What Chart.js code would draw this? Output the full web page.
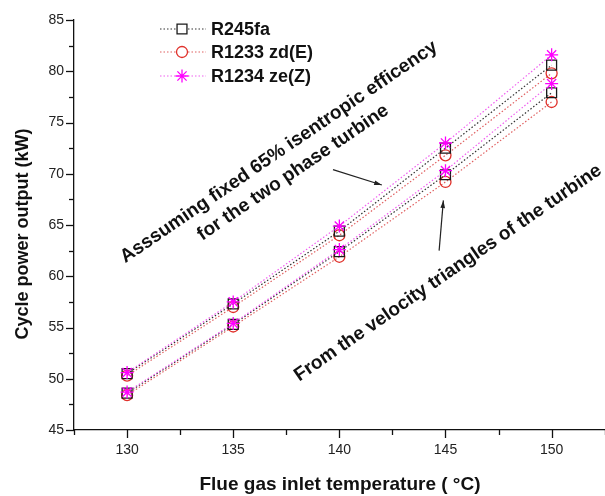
<!DOCTYPE html>
<html lang="en">
<head>
<meta charset="UTF-8">
<title>Cycle power output vs flue gas inlet temperature</title>
<script src="https://cdn.jsdelivr.net/npm/chart.js"></script>
<style>
  body { margin: 0; background: #fff; overflow: hidden; }
  /* the original figure is cut at the right edge, so the canvas runs a little past the view */
  #wrap { width: 605px; height: 496px; overflow: hidden; }
</style>
</head>
<body>
<div id="wrap"><canvas id="powerChart" width="613" height="496"></canvas></div>

<script>
    // Flue gas inlet temperature (°C)
    const temps = [130, 135, 140, 145, 150];

    // Assuming fixed 65% isentropic efficiency (upper group)
    const fixedR245fa = [50.5, 57.3, 64.4, 72.5, 80.6];
    const fixedR1233 = [50.3, 57.0, 64.0, 71.8, 79.8];
    const fixedR1234 = [50.6, 57.5, 64.9, 73.0, 81.6];

    // From the velocity triangles of the turbine (lower group)
    const velR245fa = [48.6, 55.3, 62.4, 69.9, 77.9];
    const velR1233 = [48.4, 55.1, 61.9, 69.2, 77.0];
    const velR1234 = [48.7, 55.4, 62.6, 70.3, 78.8];

    // Tick labels
    const xTickLabels = [130, 135, 140, 145, 150];
    const yTickLabels = [45, 50, 55, 60, 65, 70, 75, 80, 85];

    const FONT = '"Liberation Sans", Arial, sans-serif';

    // Series styles
    const fluids = [
        { name: 'R245fa', color: '#1a1a1a', line: '#333333', point: 'rect', radius: 7, order: 1 },
        { name: 'R1233 zd(E)', color: '#e0302a', line: '#e06060', point: 'circle', radius: 5.5, order: 2 },
        { name: 'R1234 ze(Z)', color: '#ff00ff', line: '#f060f0', point: 'star', radius: 6.5, order: 0 }
    ];

    function series(values, f) {
        return {
            label: f.name,
            data: temps.map((t, i) => ({ x: t, y: values[i] })),
            borderColor: f.line,
            borderWidth: 1.2,
            borderDash: [1.5, 2],
            pointStyle: f.point,
            pointRadius: f.radius,
            pointBorderColor: f.color,
            pointBackgroundColor: 'rgba(0,0,0,0)',
            pointBorderWidth: 1.3,
            fill: false,
            order: f.order
        };
    }

    // Ticks, titles, legend, annotations and arrows
    const decorPlugin = {
        id: 'decor',
        afterDraw(chart) {
            const ctx = chart.ctx;
            const xs = chart.scales.x, ys = chart.scales.y;
            const area = chart.chartArea;
            ctx.save();
            ctx.strokeStyle = '#111';
            ctx.lineWidth = 1.3;

            // x tick marks
            for (let v = 127.5; v <= 152.5; v += 2.5) {
                const px = Math.round(xs.getPixelForValue(v)) + 0.5;
                const len = xTickLabels.includes(v) ? 8 : 5;
                ctx.beginPath();
                ctx.moveTo(px, area.bottom);
                ctx.lineTo(px, area.bottom + len);
                ctx.stroke();
            }
            // y tick marks
            for (let v = 45; v <= 85; v += 2.5) {
                const py = Math.round(ys.getPixelForValue(v)) + 0.5;
                const len = yTickLabels.includes(v) ? 8 : 5;
                ctx.beginPath();
                ctx.moveTo(area.left, py);
                ctx.lineTo(area.left - len, py);
                ctx.stroke();
            }

            // axis titles
            ctx.fillStyle = '#111';
            ctx.textAlign = 'center';
            ctx.textBaseline = 'middle';
            ctx.font = 'bold 19px ' + FONT;
            ctx.fillText('Flue gas inlet temperature ( °C)', 340, 485);
            ctx.font = 'bold 18px ' + FONT;
            ctx.save();
            ctx.translate(23, 234);
            ctx.rotate(-Math.PI / 2);
            ctx.fillText('Cycle power output (kW)', 0, 0);
            ctx.restore();

            // legend
            const rows = [29, 52, 76];
            fluids.forEach((f, i) => {
                const ly = rows[i];
                ctx.save();
                ctx.strokeStyle = f.line;
                ctx.lineWidth = 1.2;
                ctx.setLineDash([1.5, 2]);
                ctx.beginPath();
                ctx.moveTo(160, ly);
                ctx.lineTo(206, ly);
                ctx.stroke();
                ctx.restore();
                ctx.save();
                ctx.strokeStyle = f.color;
                ctx.fillStyle = '#fff';
                ctx.lineWidth = 1.3;
                Chart.helpers.drawPoint(ctx, {
                    pointStyle: f.point, radius: f.radius, borderWidth: 1.3, rotation: 0
                }, 182, ly);
                ctx.restore();
                ctx.fillStyle = '#111';
                ctx.textAlign = 'left';
                ctx.font = 'bold 18px ' + FONT;
                ctx.fillText(f.name, 211, ly + 1);
            });

            // rotated annotations
            ctx.font = 'bold 19px ' + FONT;
            ctx.textAlign = 'center';
            ctx.save();
            ctx.translate(279, 152);
            ctx.rotate(-34.3 * Math.PI / 180);
            ctx.fillText('Asssuming fixed 65% isentropic efficency', 0, 0);
            ctx.fillText('for the two phase turbine', 0, 25);
            ctx.restore();

            ctx.save();
            ctx.translate(448, 273);
            ctx.rotate(-34.5 * Math.PI / 180);
            ctx.fillText('From the velocity triangles of the turbine', 0, 0);
            ctx.restore();

            // arrows, anchored in data space
            drawArrow(ctx, xs.getPixelForValue(139.7), ys.getPixelForValue(70.4),
                xs.getPixelForValue(142.0), ys.getPixelForValue(68.9));
            drawArrow(ctx, xs.getPixelForValue(144.7), ys.getPixelForValue(62.5),
                xs.getPixelForValue(144.9), ys.getPixelForValue(67.4));

            ctx.restore();
        }
    };

    function drawArrow(ctx, x1, y1, x2, y2) {
        const a = Math.atan2(y2 - y1, x2 - x1);
        ctx.save();
        ctx.strokeStyle = '#222';
        ctx.fillStyle = '#222';
        ctx.lineWidth = 1.2;
        ctx.beginPath();
        ctx.moveTo(x1, y1);
        ctx.lineTo(x2, y2);
        ctx.stroke();
        ctx.beginPath();
        ctx.moveTo(x2, y2);
        ctx.lineTo(x2 - 8 * Math.cos(a - 0.3), y2 - 8 * Math.sin(a - 0.3));
        ctx.lineTo(x2 - 8 * Math.cos(a + 0.3), y2 - 8 * Math.sin(a + 0.3));
        ctx.closePath();
        ctx.fill();
        ctx.restore();
    }

    const ctxPower = document.getElementById('powerChart').getContext('2d');
    new Chart(ctxPower, {
        type: 'line',
        data: {
            datasets: [
                series(fixedR245fa, fluids[0]),
                series(fixedR1233, fluids[1]),
                series(fixedR1234, fluids[2]),
                series(velR245fa, fluids[0]),
                series(velR1233, fluids[1]),
                series(velR1234, fluids[2])
            ]
        },
        options: {
            responsive: false,
            animation: false,
            layout: { padding: { top: 20, right: 0, left: 0, bottom: 0 } },
            plugins: {
                legend: { display: false },
                tooltip: { enabled: false }
            },
            scales: {
                x: {
                    type: 'linear',
                    min: 127.5,
                    max: 152.5,
                    afterFit: s => { s.height = 66; },
                    // transparent tick marks give the label offset without right padding
                    grid: { display: true, drawOnChartArea: false, drawTicks: true, tickLength: 12, color: 'rgba(0,0,0,0)' },
                    border: { display: true, color: '#111', width: 1.3 },
                    ticks: {
                        stepSize: 2.5,
                        padding: 0,
                        color: '#222',
                        font: { family: FONT, size: 14 },
                        maxRotation: 0,
                        autoSkip: false,
                        callback: v => xTickLabels.includes(v) ? String(v) : ''
                    }
                },
                y: {
                    min: 45,
                    max: 85,
                    afterFit: s => { s.width = 74; },
                    grid: { display: false, drawTicks: false },
                    border: { display: true, color: '#111', width: 1.3 },
                    ticks: {
                        stepSize: 2.5,
                        padding: 10,
                        color: '#222',
                        font: { family: FONT, size: 14 },
                        autoSkip: false,
                        callback: v => yTickLabels.includes(v) ? String(v) : ''
                    }
                }
            }
        },
        plugins: [decorPlugin]
    });
</script>
</body>
</html>
